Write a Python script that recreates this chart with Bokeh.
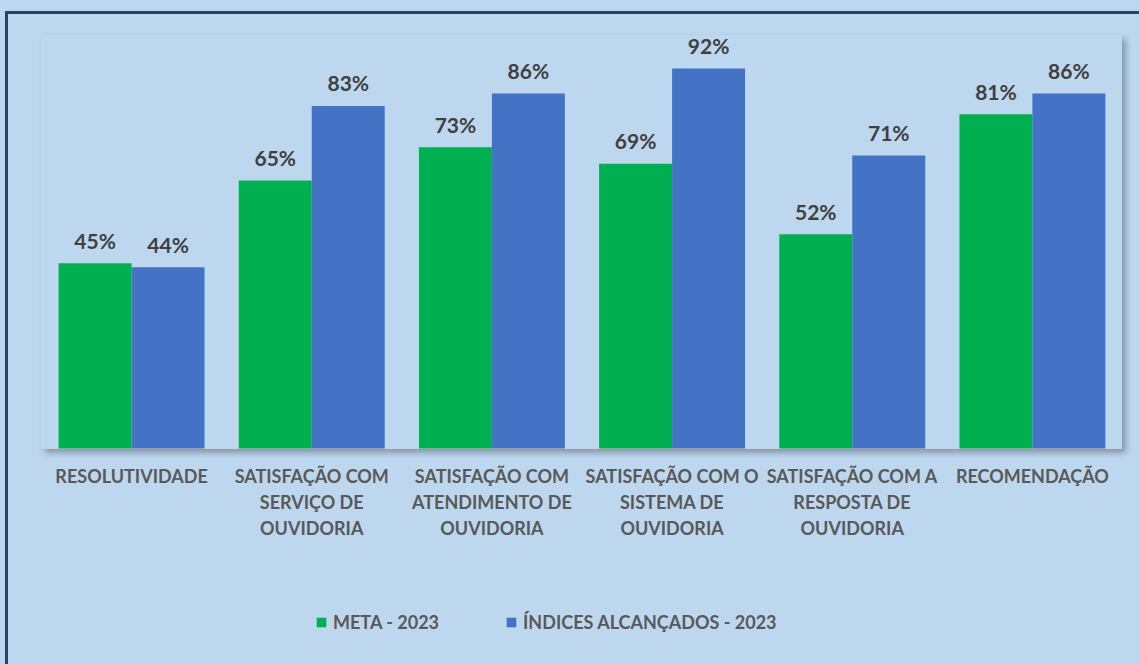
from bokeh.plotting import figure
from bokeh.models import FactorRange, ColumnDataSource, Legend, LegendItem, Range1d
from bokeh.transform import dodge
from bokeh.core.properties import value
from bokeh.embed import file_html
from bokeh.resources import INLINE

categories = [
    "RESOLUTIVIDADE",
    "SATISFAÇÃO COM\nSERVIÇO DE\nOUVIDORIA",
    "SATISFAÇÃO COM\nATENDIMENTO DE\nOUVIDORIA",
    "SATISFAÇÃO COM O\nSISTEMA DE\nOUVIDORIA",
    "SATISFAÇÃO COM A\nRESPOSTA DE\nOUVIDORIA",
    "RECOMENDAÇÃO",
]
meta_2023 = [45, 65, 73, 69, 52, 81]
indices_2023 = [44, 83, 86, 92, 71, 86]
series_names = ["META - 2023", "ÍNDICES ALCANÇADOS - 2023"]

BG = "#BDD7EE"
GREEN = "#00B050"
BLUE = "#4472C4"
FONT = "Lato"

W, H = 1139, 664
PLOT_TOP, PLOT_BOTTOM = 35, 449          # pixel rows of 100 % and 0 %
px_per_unit = (PLOT_BOTTOM - PLOT_TOP) / 100.0
y_min = -(H - PLOT_BOTTOM) / px_per_unit  # frame extends to canvas bottom

src = ColumnDataSource(dict(
    cats=categories,
    meta=meta_2023,
    idx=indices_2023,
    meta_lbl=[f"{v}%" for v in meta_2023],
    idx_lbl=[f"{v}%" for v in indices_2023],
))

p = figure(
    x_range=FactorRange(*categories), y_range=Range1d(y_min, 100),
    width=W, height=H, output_backend="svg", toolbar_location=None,
    min_border_left=41, min_border_right=17, min_border_top=PLOT_TOP, min_border_bottom=0,
    background_fill_color=BG, border_fill_color=BG,
)
p.outline_line_color = None
p.grid.visible = False
p.yaxis.visible = False

bw = 0.405
off = 0.2025
r1 = p.vbar(x=dodge("cats", -off, range=p.x_range), top="meta", bottom=0, width=bw,
            source=src, fill_color=GREEN, line_color=None)
r2 = p.vbar(x=dodge("cats", off, range=p.x_range), top="idx", bottom=0, width=bw,
            source=src, fill_color=BLUE, line_color=None)

for col, lbl, o in (("meta", "meta_lbl", -off), ("idx", "idx_lbl", off)):
    p.text(x=dodge("cats", o, range=p.x_range), y=col, text=lbl, source=src,
           text_align="center", text_baseline="alphabetic", y_offset=-23,
           text_font=value(FONT), text_font_style="bold", text_font_size="21px",
           text_color="#404040")

ax = p.xaxis[0]
ax.fixed_location = 0
ax.axis_line_color = "#D0D0D0"
ax.axis_line_width = 2
ax.major_tick_line_color = None
ax.minor_tick_line_color = None
ax.major_label_standoff = 9
ax.major_label_text_font = FONT
ax.major_label_text_font_style = "bold"
ax.major_label_text_font_size = "18px"
ax.major_label_text_color = "#595959"
ax.major_label_text_line_height = 1.2

legend = Legend(
    items=[LegendItem(label=series_names[0], renderers=[r1]),
           LegendItem(label=series_names[1], renderers=[r2])],
    orientation="horizontal", location=(274, 31),
    background_fill_alpha=0, border_line_color=None, padding=0, margin=0,
    spacing=66, glyph_width=12, glyph_height=12, label_standoff=6,
    label_text_font=FONT, label_text_font_style="bold", label_text_font_size="18px",
    label_text_color="#595959", label_height=22,
)
p.add_layout(legend, "center")

html = file_html(p, INLINE)
css = (
    "<style>"
    "body{background:%s;}"
    "body::before{content:'';position:fixed;left:5px;top:11px;width:1400px;height:1000px;"
    "border:3px solid #2B4462;pointer-events:none;z-index:1000;}"
    "body::after{content:'';position:fixed;left:41px;top:35px;width:1081px;height:414px;"
    "box-shadow:4px 4px 6px rgba(20,40,70,0.35);pointer-events:none;z-index:999;}"
    "</style>" % BG
)
html = html.replace("<head>", "<head>" + css, 1)
open("out.html", "w").write(html)
